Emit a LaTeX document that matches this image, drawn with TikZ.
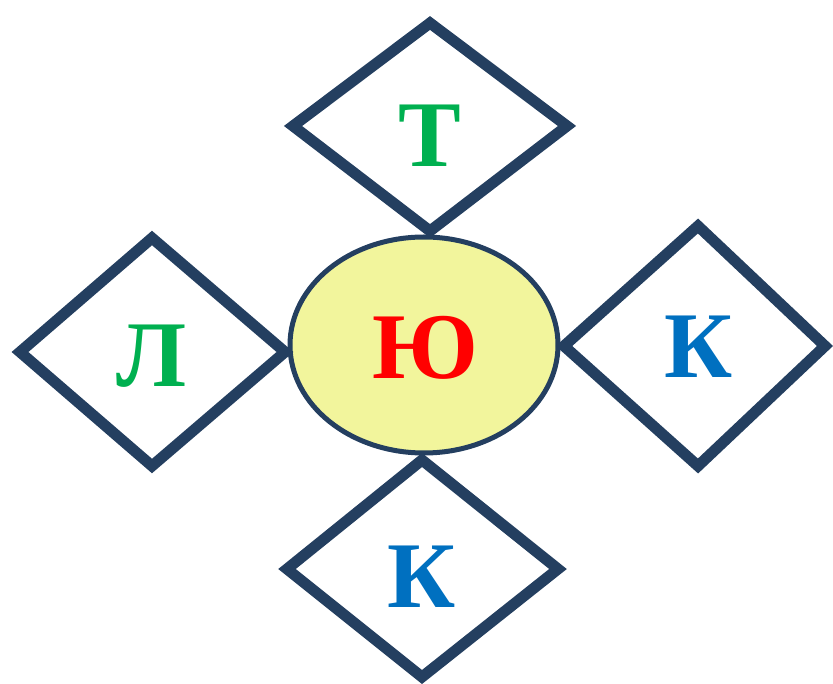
\documentclass[tikz,border=0pt]{standalone}
\usepackage{fontspec}
\setmainfont{Liberation Serif}
\usetikzlibrary{shapes.geometric}
\definecolor{navy}{HTML}{243F60}
\definecolor{yfill}{HTML}{F2F59C}
\definecolor{lgreen}{HTML}{00B050}
\definecolor{lred}{HTML}{FF0000}
\definecolor{lblue}{HTML}{0070C0}
\begin{document}
\begin{tikzpicture}[x=1pt,y=-1pt,
  rhomb/.style={draw=navy,line width=11pt,line join=miter},
  letter/.style={anchor=base,inner sep=0pt,font=\fontsize{94}{94}\selectfont\bfseries}]
\useasboundingbox (0,0) rectangle (833,684);
% centre ellipse
\node[ellipse,draw=navy,fill=yfill,line width=5pt,minimum width=268pt,minimum height=216pt,inner sep=0pt] (mid) at (424,345) {};
% diamonds
\draw[rhomb] (430,23) -- (567,126) -- (430,231) -- (293,126) -- cycle;
\draw[rhomb] (152,238) -- (285,352) -- (152,466) -- (20,352) -- cycle;
\draw[rhomb] (698,226) -- (825,346) -- (698,466) -- (564,346) -- cycle;
\draw[rhomb] (422,460) -- (558,569) -- (422,677) -- (287,569) -- cycle;
% letters
\node[letter,text=lgreen] (t) at (430,167) {Т};
\node[letter,text=lgreen] (l) at (152,387) {Л};
\node[letter,text=lred] (yu) at (425,379) {Ю};
\node[letter,text=lblue] (k1) at (699,378) {К};
\node[letter,text=lblue] (k2) at (422,607) {К};
\end{tikzpicture}
\end{document}
